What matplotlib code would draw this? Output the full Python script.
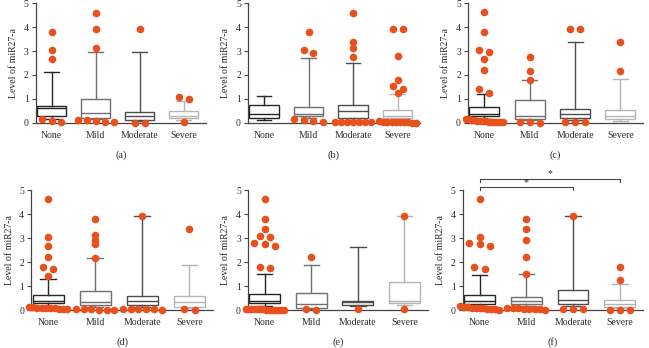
import numpy as np
import matplotlib.pyplot as plt

plt.rcParams["font.family"] = ["Liberation Serif", "DejaVu Serif"]

groups = ["None", "Mild", "Moderate", "Severe"]
panels = ["a", "b", "c", "d", "e", "f"]

# box statistics per panel, one value per group
q1 = {"a": [0.28, 0.20, 0.12, 0.20], "b": [0.20, 0.28, 0.20, 0.20],
      "c": [0.28, 0.17, 0.20, 0.14], "d": [0.28, 0.22, 0.22, 0.14],
      "e": [0.28, 0.08, 0.20, 0.28], "f": [0.25, 0.25, 0.25, 0.14]}
med = {"a": [0.60, 0.42, 0.28, 0.30], "b": [0.35, 0.35, 0.49, 0.28],
       "c": [0.38, 0.30, 0.39, 0.28], "d": [0.39, 0.32, 0.39, 0.32],
       "e": [0.39, 0.25, 0.32, 0.39], "f": [0.39, 0.36, 0.42, 0.25]}
q3 = {"a": [0.69, 1.00, 0.45, 0.49], "b": [0.76, 0.65, 0.75, 0.53],
      "c": [0.67, 0.97, 0.58, 0.53], "d": [0.61, 0.80, 0.57, 0.57],
      "e": [0.67, 0.69, 0.39, 1.15], "f": [0.64, 0.56, 0.83, 0.42]}
whis_lo = {"a": [0.17, 0.15, 0.06, 0.12], "b": [0.10, 0.20, 0.12, 0.12],
           "c": [0.18, 0.10, 0.12, 0.08], "d": [0.18, 0.12, 0.12, 0.08],
           "e": [0.18, 0.06, 0.15, 0.20], "f": [0.16, 0.16, 0.15, 0.08]}
whis_hi = {"a": [2.14, 2.96, 2.96, 0.90], "b": [1.11, 2.70, 2.50, 1.22],
           "c": [1.22, 1.78, 3.36, 1.85], "d": [1.28, 2.17, 3.92, 1.89],
           "e": [1.50, 1.89, 2.64, 3.92], "f": [1.47, 1.50, 3.92, 1.08]}

# outlying points per panel and group
outliers = {
    "a": [[3.78, 3.04, 2.65, 0.15, 0.07, 0.02],
          [4.60, 3.92, 3.12, 0.11, 0.10, 0.07, 0.05, 0.05],
          [3.90, 0.01, 0.01],
          [1.07, 0.98, 0.03]],
    "b": [[],
          [3.80, 3.05, 2.92, 0.15, 0.10, 0.08, 0.03],
          [4.60, 3.38, 3.12, 2.76, 0.04, 0.03, 0.04, 0.05, 0.03, 0.02, 0.02],
          [3.90, 3.92, 2.80, 1.77, 1.52, 1.40, 1.25,
           0.03, 0.01, 0.02, 0.04, 0.05, 0.06, 0.05, 0.04, 0.02, 0.01]],
    "c": [[4.62, 3.80, 3.05, 2.95, 2.67, 2.22, 1.40, 1.25,
           0.05, 0.04, 0.06, 0.08, 0.12, 0.15, 0.14, 0.10, 0.08, 0.06,
           0.05, 0.04, 0.03, 0.05],
          [2.75, 2.18, 1.78, 0.05, 0.02, 0.00],
          [3.92, 3.90, 0.04, 0.03, 0.02],
          [3.38, 2.15]],
    "d": [[4.62, 3.05, 2.67, 2.22, 1.78, 1.73, 1.40,
           0.10, 0.08, 0.09, 0.07, 0.05, 0.12, 0.14, 0.08, 0.04, 0.06],
          [3.80, 3.12, 2.92, 2.75, 2.17, 0.05, 0.04, 0.03, 0.02, 0.01, 0.01],
          [3.92, 0.06, 0.06, 0.05, 0.04, 0.03, 0.02],
          [3.38, 0.04, 0.02]],
    "e": [[4.62, 3.80, 3.38, 3.10, 3.05, 2.80, 2.75, 2.67, 1.78, 1.75,
           0.02, 0.03, 0.02, 0.03, 0.04, 0.03, 0.02, 0.03, 0.04, 0.02,
           0.01, 0.02, 0.03, 0.02],
          [2.22, 0.04, 0.01],
          [0.06],
          [3.92, 0.04]],
    "f": [[4.62, 3.05, 2.80, 2.75, 2.67, 1.78, 1.73,
           0.10, 0.08, 0.12, 0.09, 0.06, 0.11, 0.15, 0.10, 0.06, 0.04, 0.02],
          [3.80, 3.38, 2.92, 2.22, 1.50, 0.08, 0.07, 0.06, 0.05, 0.09,
           0.06, 0.04, 0.02],
          [3.92, 0.04, 0.03, 0.03],
          [1.78, 1.25, 0.02, 0.02, 0.02]],
}

# significance brackets in panel (f): (from group, to group, label)
sig_pairs = [(0, 3, "*"), (0, 2, "*")]

box_colors = ["#262626", "#707070", "#4d4d4d", "#b5b5b5"]
dot_color = "#e8501e"
axis_color = "#444444"
text_color = "#2a2a2a"

rects = {"a": [0.055, 0.647, 0.262, 0.344], "b": [0.382, 0.647, 0.265, 0.344],
         "c": [0.721, 0.647, 0.270, 0.344], "d": [0.048, 0.109, 0.280, 0.345],
         "e": [0.382, 0.109, 0.277, 0.345], "f": [0.713, 0.109, 0.278, 0.345]}


def spread(values, center):
    # put points that sit close together side by side
    vals = sorted(values, reverse=True)
    xs, ys = [], []
    i = 0
    while i < len(vals):
        j = i
        while j + 1 < len(vals) and vals[i] - vals[j + 1] < 0.16:
            j += 1
        n = j - i + 1
        step = min(0.22, 0.82 / max(n - 1, 1))
        offs = (np.arange(n) - (n - 1) / 2) * step
        xs.extend(center + offs)
        ys.extend(vals[i:j + 1])
        i = j + 1
    return xs, ys


fig = plt.figure(figsize=(6.49, 3.48), dpi=100)

for p in panels:
    ax = fig.add_axes(rects[p])
    stats = []
    for k in range(4):
        stats.append({"med": med[p][k], "q1": q1[p][k], "q3": q3[p][k],
                      "whislo": whis_lo[p][k], "whishi": whis_hi[p][k],
                      "fliers": []})
    art = ax.bxp(stats, positions=range(4), widths=0.66, showfliers=False,
                 patch_artist=True)
    for k in range(4):
        c = box_colors[k]
        art["boxes"][k].set(facecolor="white", edgecolor=c, linewidth=1.0)
        art["medians"][k].set(color=c, linewidth=1.0)
        for ln in art["whiskers"][2 * k:2 * k + 2] + art["caps"][2 * k:2 * k + 2]:
            ln.set(color=c, linewidth=1.0)
    for k in range(4):
        xs, ys = spread(outliers[p][k], k)
        ax.scatter(xs, ys, s=30, color=dot_color, zorder=5, linewidths=0,
                   clip_on=False)

    ax.set_xlim(-0.36, 3.5)
    ax.set_ylim(0, 5)
    ax.set_yticks(range(6))
    ax.set_xticks(range(4))
    ax.set_xticklabels(groups)
    ax.tick_params(axis="x", length=0, pad=6, labelsize=7, colors=text_color)
    ax.tick_params(axis="y", length=3, width=0.8, pad=2, labelsize=7,
                   colors=text_color, color=axis_color)
    for s in ["top", "right"]:
        ax.spines[s].set_visible(False)
    for s in ["left", "bottom"]:
        ax.spines[s].set_color(axis_color)
        ax.spines[s].set_linewidth(0.9)
    ax.set_ylabel("Level of miR27-a", fontsize=7, color=text_color, labelpad=4)
    ax.text(0.5, -0.27, "(" + p + ")", transform=ax.transAxes, ha="center",
            va="center", fontsize=7.5, color=text_color)

    if p == "f":
        levels = [5.46, 5.12]
        for (g0, g1, lab), yl in zip(sig_pairs, levels):
            ax.plot([g0, g0, g1, g1], [yl - 0.13, yl, yl, yl - 0.13],
                    color=axis_color, linewidth=0.8, clip_on=False)
            ax.text((g0 + g1) / 2, yl + 0.02, lab, ha="center", va="bottom",
                    fontsize=7, color=text_color)

fig.savefig("out.png", dpi=100)
